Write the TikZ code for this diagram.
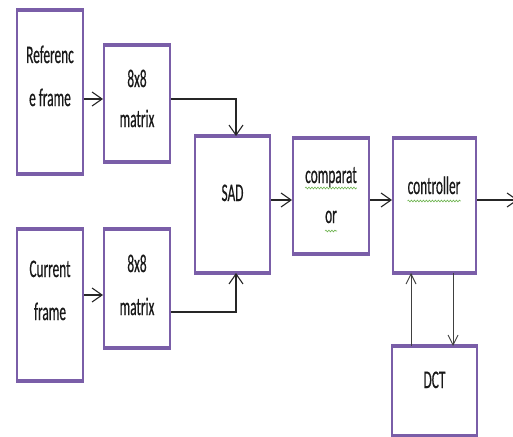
\documentclass[tikz,border=0pt]{standalone}
\usepackage{fontspec}
\setmainfont{Carlito}
\newfontfamily\fk{Carlito}[FakeBold=0.7]
\usetikzlibrary{arrows.meta,decorations.pathmorphing}
\definecolor{pur}{RGB}{122,94,168}
\definecolor{sq}{RGB}{110,180,80}
\newcommand\tx[1]{\scalebox{1}[1.9]{#1}}
\tikzset{
  blk/.style={draw=pur, line width=2pt, fill=white, inner sep=0pt, rectangle},
  lbl/.style={anchor=base, inner sep=0pt, font=\fk\fontsize{13.3}{15}\selectfont, text=black!90},
  arr/.style={draw=black!85, line width=1.4pt, -{Straight Barb[length=10pt,width=14pt,line width=1.1pt]}},
  thinarr/.style={draw=black!75, line width=0.9pt, -{Straight Barb[length=10pt,width=10pt,line width=0.9pt]}},
  squig/.style={draw=sq, line width=0.6pt, decorate, decoration={snake, amplitude=0.9pt, segment length=3pt}}
}
\begin{document}
\begin{tikzpicture}[x=1pt,y=-1pt]
\useasboundingbox[fill=white] (0,0) rectangle (513,436);
% boxes
\node[blk, minimum width=66pt, minimum height=162pt] (ref) at (50,92) {};
\node[blk, minimum width=66pt, minimum height=115pt] (m1) at (137,103.5) {};
\node[blk, minimum width=66pt, minimum height=150pt] (cur) at (50,305) {};
\node[blk, minimum width=66pt, minimum height=117pt] (m2) at (137,288.5) {};
\node[blk, minimum width=75pt, minimum height=135pt] (sad) at (232.5,204.5) {};
\node[blk, minimum width=76pt, minimum height=114pt] (comp) at (331,196) {};
\node[blk, minimum width=83pt, minimum height=133pt] (ctrl) at (434.5,205.5) {};
\node[blk, minimum width=85pt, minimum height=88pt] (dct) at (434.5,391) {};
% thick top and bottom edges
\foreach \n in {ref,m1,cur,m2,sad,comp,ctrl,dct}{
  \draw[pur, line width=4.5pt] (\n.north west) -- (\n.north east);
  \draw[pur, line width=4.5pt] (\n.south west) -- (\n.south east);
}
% texts
\node[lbl] (ref-a) at (50,63) {\tx{Referenc}};
\node[lbl] (ref-b) at (50,106) {\tx{e frame}};
\node[lbl] (m1-a) at (137,87) {\tx{8x8}};
\node[lbl] (m1-b) at (137,127) {\tx{matrix}};
\node[lbl] (cur-a) at (50,277) {\tx{Current}};
\node[lbl] (cur-b) at (50,320) {\tx{frame}};
\node[lbl] (m2-a) at (137,272) {\tx{8x8}};
\node[lbl] (m2-b) at (137,315) {\tx{matrix}};
\node[lbl] (sad-a) at (232.5,201) {\tx{SAD}};
\node[lbl] (comp-a) at (331,183) {\tx{comparat}};
\node[lbl] (comp-b) at (331,223) {\tx{or}};
\node[lbl] (ctrl-a) at (434,194) {\tx{controller}};
\node[lbl] (dct-a) at (434.5,388) {\tx{DCT}};
% spell-check squiggles
\draw[squig] (comp-a.south west |- 0,188) -- (comp-a.south east |- 0,188);
\draw[squig] (comp-b.south west |- 0,231) -- (comp-b.south east |- 0,231);
\draw[squig] (ctrl-a.south west |- 0,201) -- (ctrl-a.south east |- 0,201);
% connectors
\coordinate (out) at (518,200);
\draw[arr] (ref.east |- 0,99) -- (m1.west |- 0,99);
\draw[arr] (cur.east |- 0,295) -- (m2.west |- 0,295);
\draw[arr] (m1.east |- 0,99) -| (sad.north -| 236,0);
\draw[arr] (m2.east |- 0,312) -| (sad.south -| 236,0);
\draw[arr] (sad.east |- 0,200) -- (comp.west |- 0,200);
\draw[arr] (comp.east |- 0,200) -- (ctrl.west |- 0,200);
\draw[arr] (ctrl.east |- 0,200) -- (out);
\draw[thinarr] (dct.north -| 411,0) -- (ctrl.south -| 411,0);
\draw[thinarr] (ctrl.south -| 453,0) -- (dct.north -| 453,0);
\end{tikzpicture}
\end{document}
